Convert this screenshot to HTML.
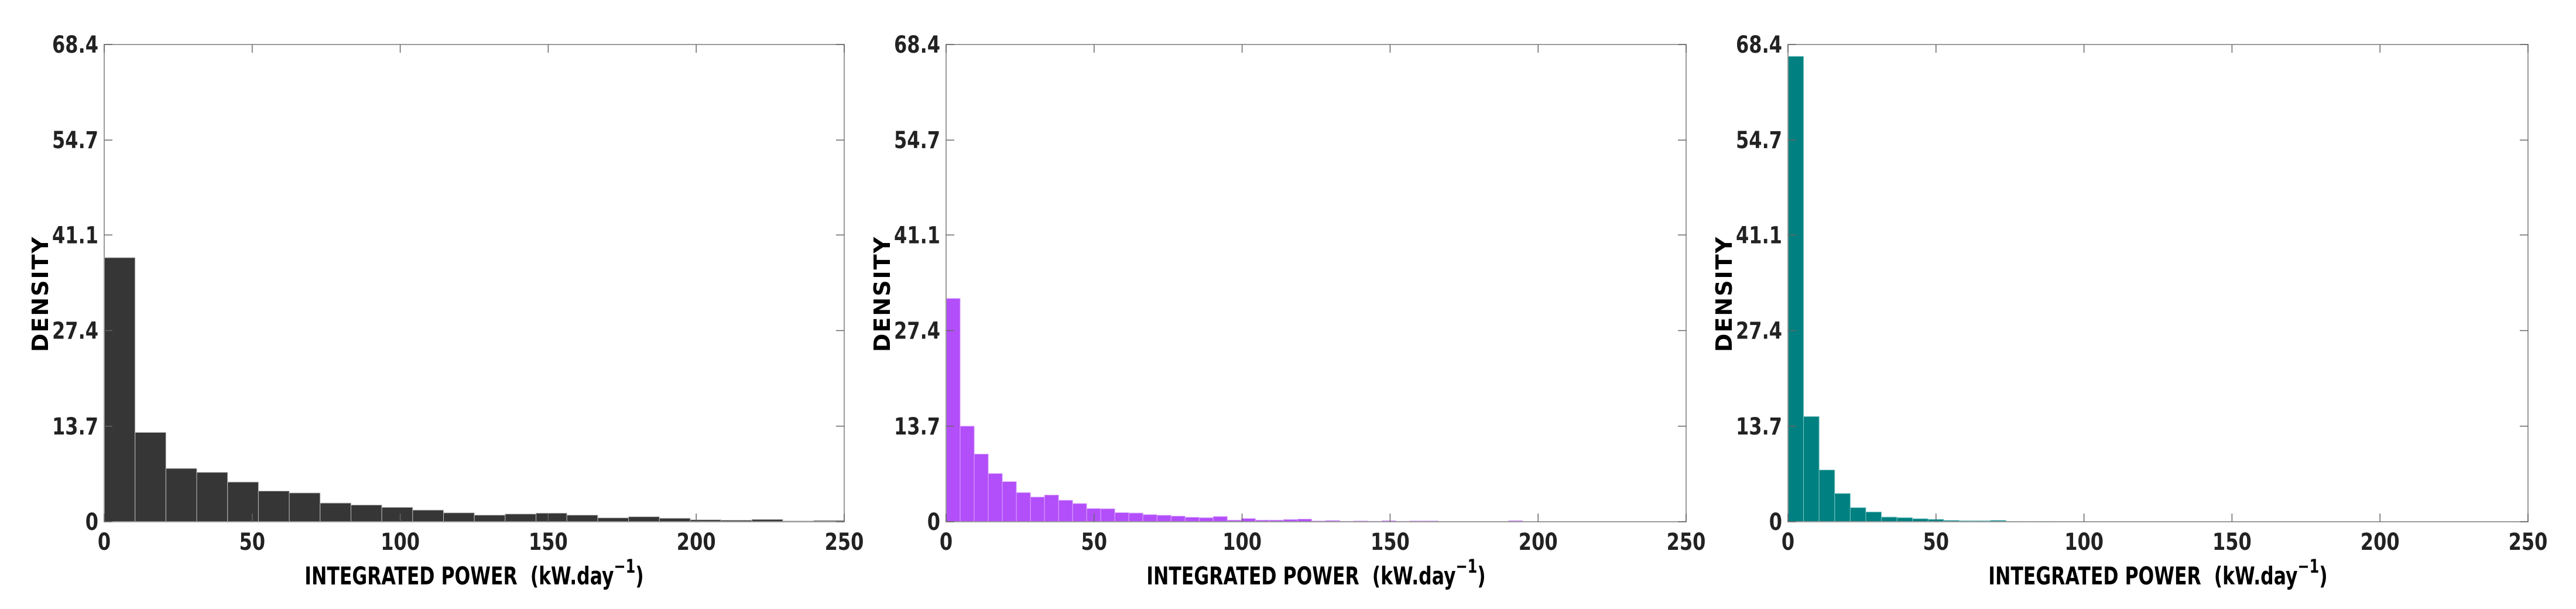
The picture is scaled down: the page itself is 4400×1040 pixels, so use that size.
<!DOCTYPE html>
<html><head><meta charset="utf-8"><style>
html,body{margin:0;padding:0;background:#fff;}
svg{display:block;}
text{font-family:"DejaVu Sans","Liberation Sans",sans-serif;font-weight:bold;fill:#222;}
</style></head><body>
<svg id="fig" width="4400" height="1040" viewBox="0 0 4400 1040" xmlns="http://www.w3.org/2000/svg"></svg>
<script>
const yTicks=[0,13.7,27.4,41.1,54.7,68.4];
const yTickLabels=["0","13.7","27.4","41.1","54.7","68.4"];
const xTicks=[0,50,100,150,200,250];
const yMax=68.4, xMax=250;
const binWidth1=10.42, binWidth2=4.75, binWidth3=5.26;
const density1=[37.85,12.8,7.64,7.08,5.69,4.40,4.13,2.68,2.40,2.06,1.67,1.28,0.95,1.11,1.23,0.95,0.56,0.72,0.50,0.28,0.22,0.33,0.11,0.17];
const density2=[32.0,13.7,9.70,6.91,5.75,4.18,3.54,3.83,3.08,2.61,1.89,1.86,1.31,1.25,1.02,0.93,0.81,0.64,0.58,0.75,0.23,0.46,0.23,0.23,0.32,0.38,0.12,0.17,0.06,0.12,0.06,0.15,0.06,0.12,0.12,0.03,0.03,0.02,0.02,0.02,0.15,0.02,0.02,0.02,0.02,0.02,0.02,0.02,0.02,0.02,0.04,0.04];
const density3=[66.7,15.08,7.42,4.05,2.02,1.40,0.67,0.58,0.43,0.34,0.19,0.14,0.14,0.19,0.05,0.03,0.05,0.03,0.02];
const panels=[
 {left:178,data:density1,bw:binWidth1,color:"#363636",edge:"#bbbbbb",name:"panel-1"},
 {left:1616,data:density2,bw:binWidth2,color:"#b34efb",edge:"#d9a8fd",name:"panel-2"},
 {left:3054,data:density3,bw:binWidth3,color:"#008080",edge:"#7cc6c6",name:"panel-3"}
];
const W=1264, TOP=76, BOT=891;
const NS="http://www.w3.org/2000/svg";
const svg=document.getElementById('fig');
function mk(tag,attrs,parent){const e=document.createElementNS(NS,tag);for(const k in attrs)e.setAttribute(k,attrs[k]);parent.appendChild(e);return e;}
panels.forEach(p=>{
 const g=mk('g',{},svg);
 
 
 const xs=v=>p.left+v/xMax*W;
 const ys=v=>BOT-v/yMax*(BOT-TOP);
 p.data.forEach((d,i)=>{
  const x0=xs(i*p.bw), x1=xs(Math.min((i+1)*p.bw,xMax));
  const r=mk('rect',{x:x0,y:ys(d),width:Math.max(0,x1-x0),height:BOT-ys(d),fill:p.color,stroke:p.edge,'stroke-width':1},g);
  
  
 });
 const box=mk('rect',{x:p.left,y:TOP,width:W,height:BOT-TOP,fill:'none',stroke:'#9a9a9a','stroke-width':2},g);
 
 
 yTicks.forEach((t,i)=>{
  const y=ys(t);
  mk('line',{x1:p.left,x2:p.left+14,y1:y,y2:y,stroke:'#666','stroke-width':1.5},g);
  mk('line',{x1:p.left+W-14,x2:p.left+W,y1:y,y2:y,stroke:'#666','stroke-width':1.5},g);
  const tx=mk('text',{x:0,y:0,'text-anchor':'end','font-size':40,transform:`translate(${p.left-10},${y+14}) scale(0.8,1)`},g);
  tx.textContent=yTickLabels[i];
  
  
 });
 xTicks.forEach(t=>{
  const x=xs(t);
  mk('line',{x1:x,x2:x,y1:BOT,y2:BOT-14,stroke:'#666','stroke-width':1.5},g);
  mk('line',{x1:x,x2:x,y1:TOP,y2:TOP+14,stroke:'#666','stroke-width':1.5},g);
  const tx=mk('text',{x:0,y:0,'text-anchor':'middle','font-size':40,transform:`translate(${x},939) scale(0.8,1)`},g);
  tx.textContent=String(t);
  
  
 });
 const xl=mk('text',{x:0,y:0,'text-anchor':'middle','font-size':42,transform:`translate(${p.left+W/2},998) scale(0.75,1)`,style:'fill:#000'},g);
 xl.innerHTML='INTEGRATED POWER &#160;(kW.day<tspan dy="-20" font-size="32">−1</tspan><tspan dy="20">)</tspan>';
 
 
 const yl=mk('text',{x:0,y:0,'text-anchor':'middle','font-size':38,transform:`translate(${p.left-96},502) rotate(-90)`,style:'fill:#000;letter-spacing:2px'},g);
 yl.textContent='DENSITY';
 
 
});
</script>
</body></html>
